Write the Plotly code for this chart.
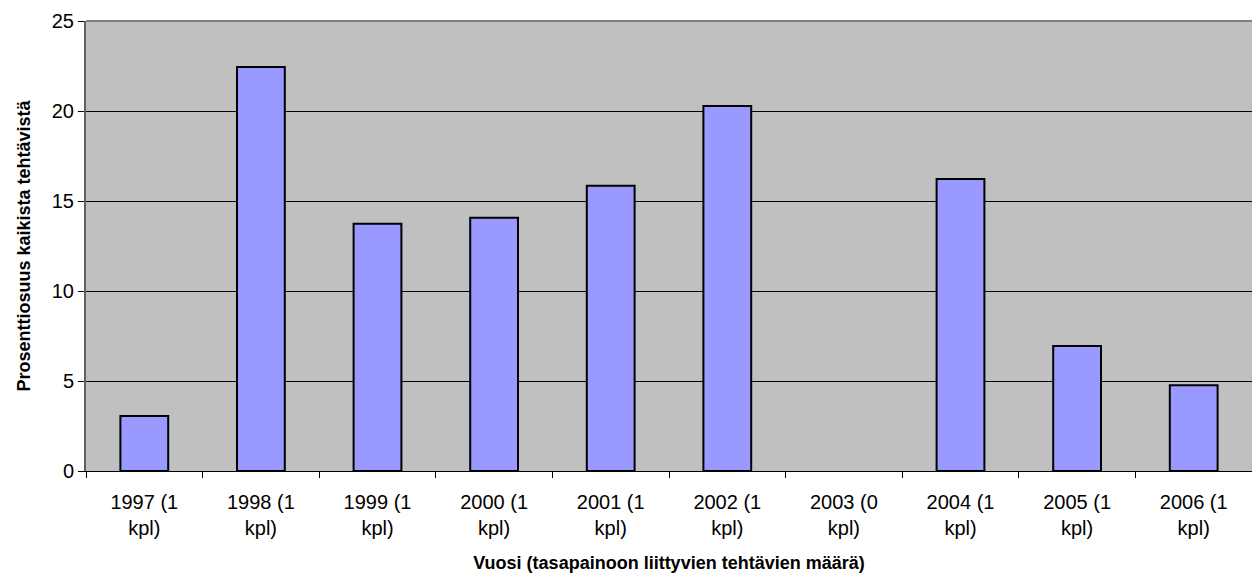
import plotly.graph_objects as go

# Osuudet vuosittain (%)
years = ["1997", "1998", "1999", "2000", "2001", "2002", "2003", "2004", "2005", "2006"]
counts = [1, 1, 1, 1, 1, 1, 0, 1, 1, 1]
shares = [3.05, 22.45, 13.74, 14.07, 15.85, 20.28, 0.0, 16.22, 6.94, 4.76]
y_ticks = [0, 5, 10, 15, 20, 25]

labels = [f"{y} ({c}<br>kpl)" for y, c in zip(years, counts)]
# no outline on empty bars so nothing is drawn over the axis line
outline_widths = [2 if v > 0 else 0 for v in shares]

fig = go.Figure(
    go.Bar(
        x=labels,
        y=shares,
        marker=dict(color="#9999FF", line=dict(color="#000000", width=outline_widths)),
        width=0.41,
    )
)

font_family = "Liberation Sans, Arial, sans-serif"

fig.update_layout(
    width=1252,
    height=577,
    margin=dict(l=86, r=0, t=21, b=106),
    paper_bgcolor="white",
    plot_bgcolor="#C0C0C0",
    showlegend=False,
    font=dict(family=font_family, size=20, color="black"),
    xaxis=dict(
        range=[-0.5, 9.5],
        showgrid=False,
        showline=True,
        linecolor="#000000",
        linewidth=1,
        ticks="outside",
        ticklen=6,
        tickcolor="#000000",
        tickson="boundaries",
        ticklabelstandoff=13,
        tickfont=dict(size=20),
        title=dict(
            text="<b>Vuosi (tasapainoon liittyvien tehtävien määrä)</b>",
            font=dict(size=18),
            standoff=18,
        ),
    ),
    yaxis=dict(
        range=[0, 25],
        tickvals=y_ticks,
        showgrid=True,
        gridcolor="#000000",
        gridwidth=1,
        zeroline=False,
        showline=True,
        linecolor="#606060",
        linewidth=2,
        ticks="outside",
        ticklen=6,
        tickcolor="#000000",
        tickfont=dict(size=20),
        title=dict(
            text="<b>Prosenttiosuus kaikista tehtävistä</b>",
            font=dict(size=18),
            standoff=16,
        ),
    ),
)

# Plot area top border
fig.add_shape(
    type="line", xref="paper", yref="paper",
    x0=0, x1=1, y0=1, y1=1,
    line=dict(color="#808080", width=2),
)

fig.write_html("out.html")
